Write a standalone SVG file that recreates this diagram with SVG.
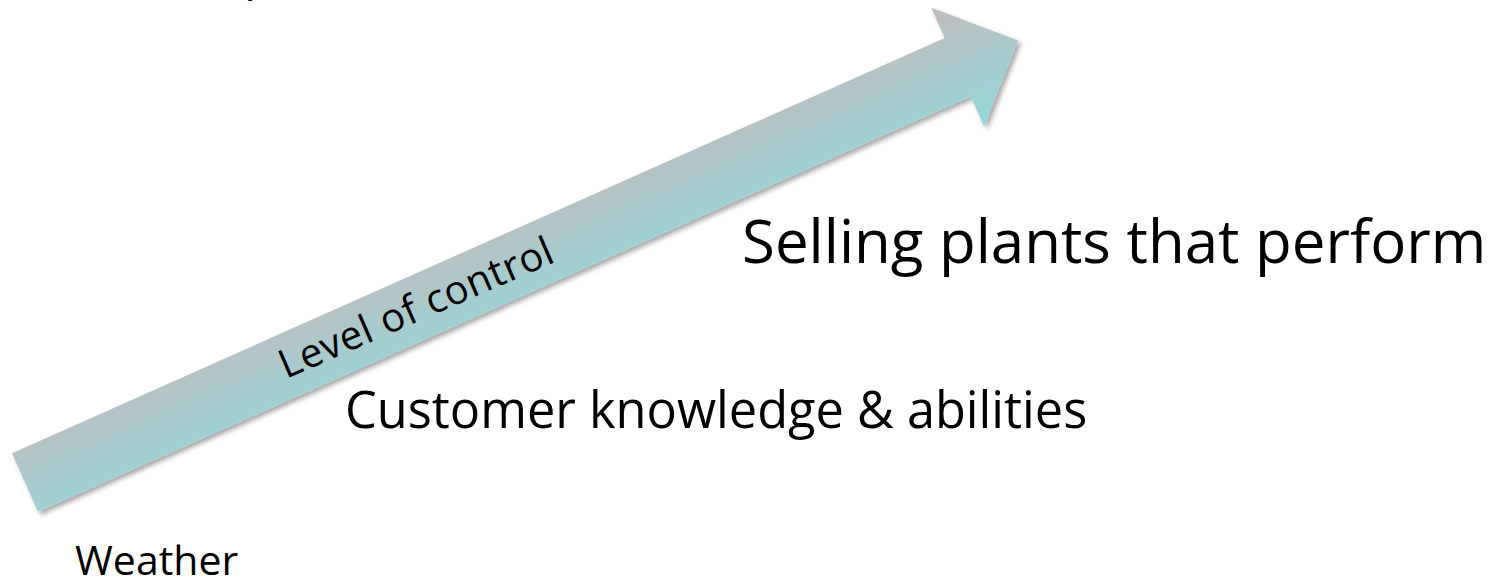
<svg xmlns="http://www.w3.org/2000/svg" width="1502" height="582" viewBox="0 0 1502 582">
  <style>
    .label { font-family: "Open Sans", "Noto Sans", "Liberation Sans", sans-serif; fill: #000000; font-variant-ligatures: none; }
  </style>
  <defs>
    <!-- gradient across the arrow's width, in its local (unrotated) frame -->
    <linearGradient id="arrowFill" gradientUnits="userSpaceOnUse" x1="0" y1="-55" x2="0" y2="55">
      <stop offset="0" stop-color="#bdbec0"/>
      <stop offset="1" stop-color="#97d5d8"/>
    </linearGradient>
    <filter id="softShadow" x="-5%" y="-10%" width="110%" height="130%">
      <feDropShadow dx="3" dy="3" stdDeviation="2.5" flood-color="#000000" flood-opacity="0.35"/>
    </filter>
  </defs>

  <!-- rising arrow: tail centre at bottom-left, tip at top-right -->
  <g id="arrow" filter="url(#softShadow)">
    <g transform="translate(25 482.5) rotate(-24)">
      <path d="M0,-32 L1021,-32 L1021,-65 L1087,0 L1021,65 L1021,32 L0,32 Z" fill="url(#arrowFill)"/>
    </g>
  </g>

  <g id="arrow-label">
    <text class="label" x="0" y="0" font-size="40" textLength="295" lengthAdjust="spacing" transform="translate(286 379) rotate(-23.5)">Level of control</text>
  </g>

  <g id="top-item">
    <text class="label" x="244" y="-10" font-size="48">p</text>
  </g>

  <g id="selling">
    <text class="label" x="742" y="263" font-size="60">Selling plants that perform</text>
  </g>

  <g id="customer">
    <text class="label" x="345" y="428" font-size="50.5">Customer knowledge &amp; abilities</text>
  </g>

  <g id="weather">
    <text class="label" x="75" y="575" font-size="41">Weather</text>
  </g>
</svg>
